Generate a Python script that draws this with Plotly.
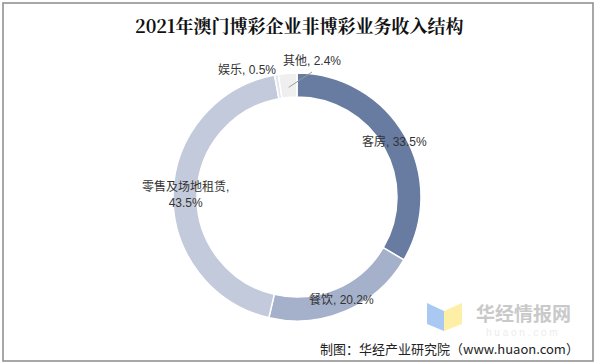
import math
import plotly.graph_objects as go

categories = ["客房", "餐饮", "零售及场地租赁", "娱乐", "其他"]
values = [33.5, 20.2, 43.5, 0.5, 2.4]
label_text = ["客房, 33.5%", "餐饮, 20.2%", "零售及场地租赁,<br>43.5%", "娱乐, 0.5%", "其他, 2.4%"]
colors = ["#687ba1", "#a5b1cb", "#c3cadb", "#e3e6ee", "#efefef"]

W, H = 597, 364
cx, cy, R_out, R_in = 297, 197, 124, 100

def px(x):
    return x / W

def py(y):
    return 1 - y / H

fig = go.Figure()
fig.add_trace(go.Pie(
    labels=categories, values=values, sort=False, direction="clockwise", rotation=0,
    hole=R_in / R_out, textinfo="none", hoverinfo="skip",
    marker=dict(colors=colors, line=dict(color="white", width=1.5)),
    domain=dict(x=[px(cx - R_out), px(cx + R_out)], y=[py(cy + R_out), py(cy - R_out)]),
    showlegend=False,
))

total = sum(values)
cum = 0
annotations = []
font = dict(family="Liberation Sans, Noto Sans CJK SC, sans-serif", size=12, color="#333333")
for i, v in enumerate(values):
    mid = (cum + v / 2) / total * 2 * math.pi
    cum += v
    r = (R_out + R_in) / 2
    x = cx + r * math.sin(mid)
    y = cy - r * math.cos(mid)
    if i == 3:
        x, y = cx - 50, cy - 127
    if i == 4:
        xa = cx + (R_out - 14) * math.sin(mid)
        ya = cy - (R_out - 14) * math.cos(mid)
        lx, ly = cx + 15, cy - 127
        fig.add_shape(type="line", xref="paper", yref="paper",
                      x0=px(xa), y0=py(ya), x1=px(lx), y1=py(ly + 2),
                      line=dict(color="#999999", width=1))
        x, y = cx + 15, cy - 136
    annotations.append(dict(x=px(x), y=py(y), xref="paper", yref="paper", text=label_text[i],
                            showarrow=False, font=font, xanchor="center", yanchor="middle"))

annotations.append(dict(x=0.5, y=py(25), xref="paper", yref="paper",
                        text="<b>2021年澳门博彩企业非博彩业务收入结构</b>", showarrow=False,
                        font=dict(family="Noto Serif CJK SC, Noto Sans CJK SC, serif", size=18, color="#111111"),
                        xanchor="center", yanchor="middle"))
annotations.append(dict(x=px(523), y=py(312), xref="paper", yref="paper", text="<b>华经情报网</b>",
                        showarrow=False, font=dict(family="Noto Sans CJK SC", size=19, color="#c9c9c9"),
                        xanchor="center", yanchor="middle"))
annotations.append(dict(x=px(522), y=py(332), xref="paper", yref="paper", text="h u a o n . c o m",
                        showarrow=False, font=dict(family="Liberation Sans", size=10, color="#ececec"),
                        xanchor="center", yanchor="middle"))
annotations.append(dict(x=px(581), y=py(348), xref="paper", yref="paper", text="制图：华经产业研究院（www.huaon.com）",
                        showarrow=False, font=dict(family="Noto Sans CJK SC, sans-serif", size=13, color="#222222"),
                        xanchor="right", yanchor="middle"))

def path(pts):
    return "M " + " L ".join(f"{px(a)},{py(b)}" for a, b in pts) + " Z"

fig.add_shape(type="path", xref="paper", yref="paper",
              path=path([(427, 303), (444, 311), (444, 331), (427, 324)]),
              fillcolor="#a9c9f2", line=dict(width=0))
fig.add_shape(type="path", xref="paper", yref="paper",
              path=path([(444, 311), (462, 303), (462, 324), (444, 331)]),
              fillcolor="#fdf0a6", line=dict(width=0))
fig.add_shape(type="rect", xref="paper", yref="paper",
              x0=px(3), y0=py(361), x1=px(593), y1=py(3),
              line=dict(color="#8a8a8a", width=1.5))

fig.update_layout(width=W, height=H, margin=dict(l=0, r=0, t=0, b=0),
                  paper_bgcolor="white", plot_bgcolor="white", annotations=annotations)
fig.write_html("out.html", config={"displayModeBar": False, "staticPlot": True},
               post_script="document.body.style.margin='0';document.body.style.overflow='hidden';")
